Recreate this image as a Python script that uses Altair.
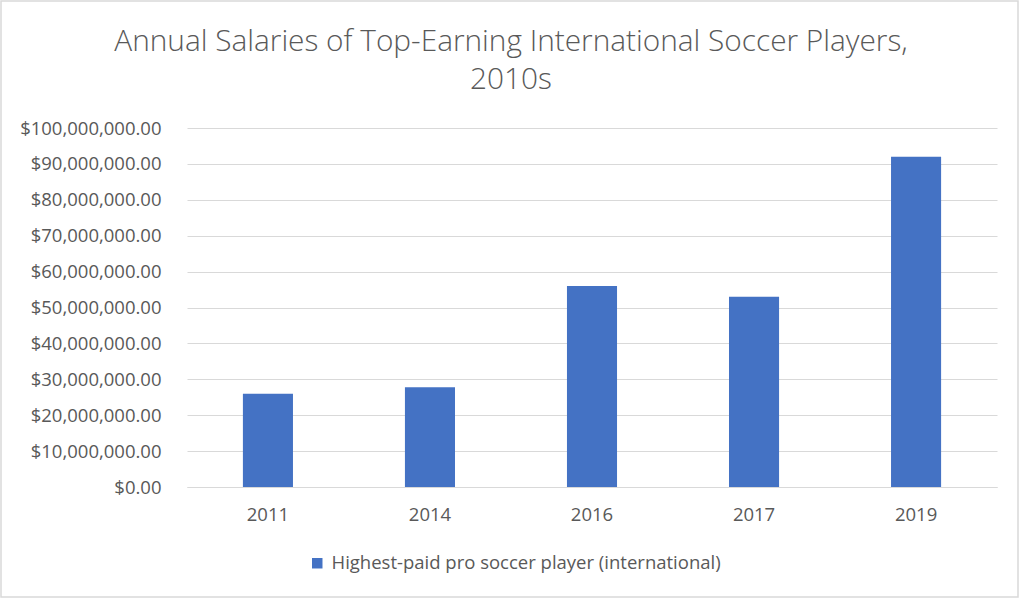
import altair as alt
import pandas as pd

years = ["2011", "2014", "2016", "2017", "2019"]
salaries = [26000000, 27800000, 56000000, 53000000, 92000000]
series_name = "Highest-paid pro soccer player (international)"
y_ticks = [0, 10000000, 20000000, 30000000, 40000000, 50000000,
           60000000, 70000000, 80000000, 90000000, 100000000]

df = pd.DataFrame({"Year": years, "Salary": salaries, "Series": [series_name] * len(years)})

GRAY = "#595959"
FONT = "Open Sans"
FS = 18.5

bars = alt.Chart(df).mark_bar(color="#4472C4").encode(
    x=alt.X("Year:N", sort=years, title=None,
            scale=alt.Scale(paddingInner=0.691, paddingOuter=0.345),
            axis=alt.Axis(labelAngle=0, ticks=False, domainColor="#d9d9d9",
                          labelPadding=18, labelFontSize=FS, labelColor=GRAY, labelFont=FONT)),
    y=alt.Y("Salary:Q", title=None,
            scale=alt.Scale(domain=[0, 100000000], nice=False),
            axis=alt.Axis(format="$,.2f", values=y_ticks, labelOverlap=False,
                          ticks=False, domain=False, gridColor="#d9d9d9", labelPadding=26,
                          labelFontSize=FS, labelColor=GRAY, labelFont=FONT, labelLimit=0)),
    color=alt.Color("Series:N", scale=alt.Scale(range=["#4472C4"]),
                    legend=alt.Legend(title=None, orient="none", legendX=121, legendY=426,
                                      symbolType="square", symbolSize=110, labelLimit=0,
                                      symbolStrokeWidth=0, labelOffset=5,
                                      labelFontSize=FS, labelColor=GRAY, labelFont=FONT)),
)

frame = alt.Chart(alt.Data(values=[{"f": 1}])).mark_rect(
    fill=None, stroke="#d9d9d9", strokeWidth=1.5
).encode(
    x=alt.value(-186), x2=alt.value(831), y=alt.value(-127), y2=alt.value(469)
)

chart = alt.layer(bars, frame).properties(
    width=810,
    height=359,
    title=alt.TitleParams(
        ["Annual Salaries of Top-Earning International Soccer Players,", "2010s"],
        font=FONT, fontWeight=300, fontSize=29.8, color=GRAY, anchor="middle",
        dx=-81, lineHeight=38, offset=-95,
    ),
    autosize=alt.AutoSizeParams(type="none"),
    padding={"left": 187, "top": 128, "right": 27, "bottom": 111},
).configure(background="white").configure_view(stroke=None)

chart.save("out.html", embed_options={"renderer": "svg", "actions": False})
